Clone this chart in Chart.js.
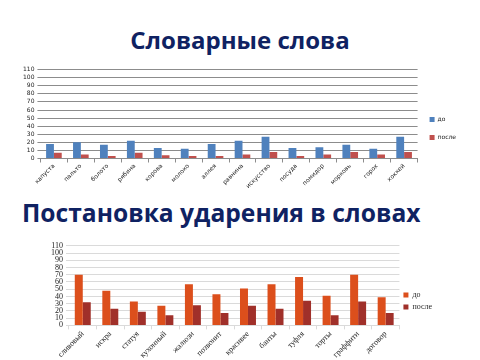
<!DOCTYPE html>
<html>
<head>
<meta charset="utf-8">
<script src="https://cdn.jsdelivr.net/npm/chart.js@4"></script>
<style>
  body { margin: 0; width: 480px; height: 360px; background: #fff; position: relative; overflow: hidden; }
  h1 { position: absolute; margin: 0; font-family: "Open Sans", sans-serif; font-weight: bold; color: #0f2262; white-space: nowrap; }
  #t1 { left: 0; width: 480px; text-align: center; top: 23px; font-size: 24px; }
  #t2 { left: 22px; top: 196px; font-size: 24.6px; }
  canvas { position: absolute; }
  #c1 { left: 20px; top: 63px; }
  #c2 { left: 48px; top: 238px; }
</style>
</head>
<body>
<h1 id="t1">Словарные слова</h1>
<h1 id="t2">Постановка ударения в словах</h1>
<canvas id="c1" width="460" height="127"></canvas>
<canvas id="c2" width="432" height="122"></canvas>
<script>
const words1 = ["капуста", "пальто", "болото", "рябина", "корова", "молоко", "аллея", "равнина", "искусство", "посуда", "помидор", "морковь", "горох", "хоккей"];
const before1 = [18, 20, 17, 22, 13, 12, 18, 22, 27, 13, 14, 17, 12, 27];
const after1 = [7, 5, 3, 7, 4, 3, 3, 5, 8, 3, 5, 8, 5, 8];

const words2 = ["сливовый", "искра", "статуя", "кухонный", "жалюзи", "позвонит", "красивее", "банты", "туфля", "торты", "граффити", "договор"];
const before2 = [70, 48, 33, 27, 57, 43, 51, 57, 67, 41, 70, 39];
const after2 = [32, 23, 19, 14, 28, 17, 27, 23, 34, 14, 33, 17];

const yTicks = [0, 10, 20, 30, 40, 50, 60, 70, 80, 90, 100, 110];

function makeChart(id, labels, a, b, colors, font, gridColor, padRight, legendPad) {
    new Chart(document.getElementById(id), {
        type: "bar",
        data: {
            labels: labels,
            datasets: [
                { label: "до", data: a, backgroundColor: colors[0], categoryPercentage: 0.58, barPercentage: 1 },
                { label: "после", data: b, backgroundColor: colors[1], categoryPercentage: 0.58, barPercentage: 1 },
            ],
        },
        options: {
            responsive: false,
            animation: false,
            layout: { padding: { right: padRight, top: 4 } },
            plugins: {
                tooltip: { enabled: false },
                legend: {
                    position: "right",
                    labels: { boxWidth: 5, boxHeight: 5, padding: legendPad, font: font, color: "#222" },
                },
            },
            scales: {
                x: {
                    grid: { offset: true, drawOnChartArea: false, tickLength: 4, color: gridColor },
                    border: { color: gridColor },
                    ticks: { minRotation: 45, maxRotation: 45, font: font, color: "#222", padding: 0 },
                },
                y: {
                    min: 0, max: 110,
                    afterBuildTicks: function (axis) { axis.ticks = yTicks.map(v => ({ value: v })); },
                    grid: { color: gridColor, tickLength: 3 },
                    border: { display: false },
                    ticks: { font: font, color: "#222", padding: 3, autoSkip: false },
                },
            },
        },
    });
}

makeChart("c1", words1, before1, after1, ["#4f81bd", "#c0504d"],
    { family: "DejaVu Sans", size: 6 }, "#8c8c8c", 14, 12);
makeChart("c2", words2, before2, after2, ["#dc4f1c", "#a0302a"],
    { family: "Liberation Serif", size: 8 }, "#dadada", 38, 4);
</script>
</body>
</html>
